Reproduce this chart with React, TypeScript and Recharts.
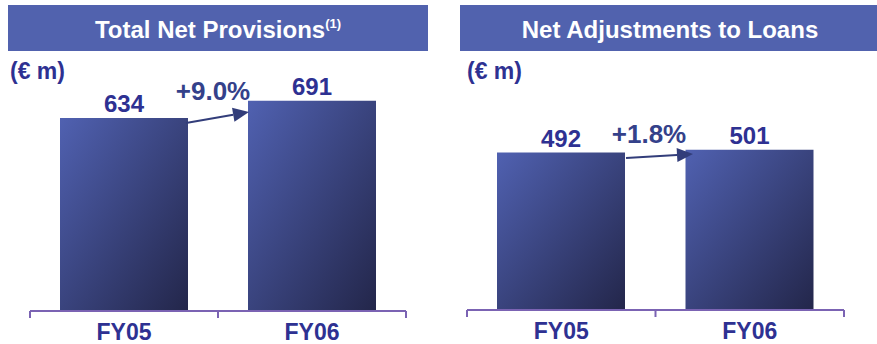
import React from "react";
import { BarChart, Bar, XAxis, YAxis, LabelList } from "recharts";

const years = ["FY05", "FY06"];
const provisions = [634, 691];
const adjustments = [492, 501];
const provisionsGrowth = "+9.0%";
const adjustmentsGrowth = "+1.8%";

const FONT = '"Liberation Sans", Arial, sans-serif';
const NAVY = "#2e3192";
const HEADER = "#5162ae";
const AXIS = "#7b63b3";

const leftData = years.map((name, i) => ({ name, value: provisions[i] }));
const rightData = years.map((name, i) => ({ name, value: adjustments[i] }));

// ticks sit on the category boundaries, labels in the middle
const FrameTick = (props: any) => {
  const { x, y, payload, index, half, last } = props;
  return (
    <g>
      <line x1={x - half} y1={y} x2={x - half} y2={y + 7} stroke={AXIS} strokeWidth={2} />
      {index === last && (
        <line x1={x + half} y1={y} x2={x + half} y2={y + 7} stroke={AXIS} strokeWidth={2} />
      )}
      <text
        x={x}
        y={y + 29}
        textAnchor="middle"
        fill={NAVY}
        fontSize={23}
        fontWeight="bold"
        fontFamily={FONT}
      >
        {payload.value}
      </text>
    </g>
  );
};

const Arrow = ({ x1, y1, x2, y2 }: { x1: number; y1: number; x2: number; y2: number }) => {
  const a = Math.atan2(y2 - y1, x2 - x1);
  const len = 16;
  const w = 7;
  const bx = x2 - len * Math.cos(a);
  const by = y2 - len * Math.sin(a);
  const px = -Math.sin(a) * w;
  const py = Math.cos(a) * w;
  return (
    <g>
      <line x1={x1} y1={y1} x2={bx} y2={by} stroke="#323d7a" strokeWidth={2} />
      <polygon
        points={`${x2},${y2} ${bx + px},${by + py} ${bx - px},${by - py}`}
        fill="#323d7a"
      />
    </g>
  );
};

const Panel = ({
  data,
  id,
  width,
  max,
  margin,
  axisHeight,
}: {
  data: { name: string; value: number }[];
  id: string;
  width: number;
  max: number;
  margin: { top: number; right: number; left: number; bottom: number };
  axisHeight: number;
}) => {
  const half = (width - margin.left - margin.right) / data.length / 2;
  return (
    <BarChart width={width} height={344} data={data} margin={margin}>
      <defs>
        <linearGradient id={id} x1="0" y1="0" x2="1" y2="1">
          <stop offset="0%" stopColor="#5061b1" />
          <stop offset="100%" stopColor="#23264a" />
        </linearGradient>
      </defs>
      <YAxis hide type="number" domain={[0, max]} />
      <XAxis
        dataKey="name"
        height={axisHeight}
        tickLine={false}
        tickSize={0}
        tickMargin={0}
        axisLine={{ stroke: AXIS, strokeWidth: 2 }}
        tick={(p: any) => <FrameTick {...p} half={half} last={data.length - 1} />}
        interval={0}
      />
      <Bar dataKey="value" barSize={128} fill={`url(#${id})`} isAnimationActive={false}>
        <LabelList
          dataKey="value"
          position="top"
          offset={6}
          fill={NAVY}
          fontSize={24}
          fontWeight="bold"
          fontFamily={FONT}
        />
      </Bar>
    </BarChart>
  );
};

export default function App() {
  return (
    <div
      style={{
        position: "absolute",
        left: 0,
        top: 0,
        width: 877,
        height: 344,
        background: "#fff",
        overflow: "hidden",
      }}
    >
      <div style={{ position: "absolute", left: 0, top: 0 }}>
        <Panel
          data={leftData}
          id="gradLeft"
          width={440}
          max={700}
          margin={{ top: 98, right: 34, left: 30, bottom: 0 }}
          axisHeight={33}
        />
      </div>
      <div style={{ position: "absolute", left: 440, top: 0 }}>
        <Panel
          data={rightData}
          id="gradRight"
          width={437}
          max={600}
          margin={{ top: 118, right: 33, left: 27, bottom: 0 }}
          axisHeight={34}
        />
      </div>
      <svg
        width={877}
        height={344}
        style={{ position: "absolute", left: 0, top: 0, pointerEvents: "none" }}
        fontFamily={FONT}
        fontWeight="bold"
      >
        <rect x={8} y={5} width={420} height={46} fill={HEADER} />
        <rect x={460} y={5} width={417} height={46} fill={HEADER} />
        <text x={218} y={38} textAnchor="middle" fill="#fff" fontSize={24}>
          Total Net Provisions
          <tspan dy={-10} fontSize={13}>
            (1)
          </tspan>
        </text>
        <text x={670} y={38} textAnchor="middle" fill="#fff" fontSize={24}>
          Net Adjustments to Loans
        </text>
        <text x={10} y={79} fill={NAVY} fontSize={23}>
          (€ m)
        </text>
        <text x={467} y={79} fill={NAVY} fontSize={23}>
          (€ m)
        </text>
        <text x={213} y={100} textAnchor="middle" fill="#34418a" fontSize={26}>
          {provisionsGrowth}
        </text>
        <text x={649} y={143} textAnchor="middle" fill="#34418a" fontSize={26}>
          {adjustmentsGrowth}
        </text>
        <Arrow x1={186} y1={123} x2={249} y2={112} />
        <Arrow x1={626} y1={158} x2={693} y2={154} />
      </svg>
    </div>
  );
}
